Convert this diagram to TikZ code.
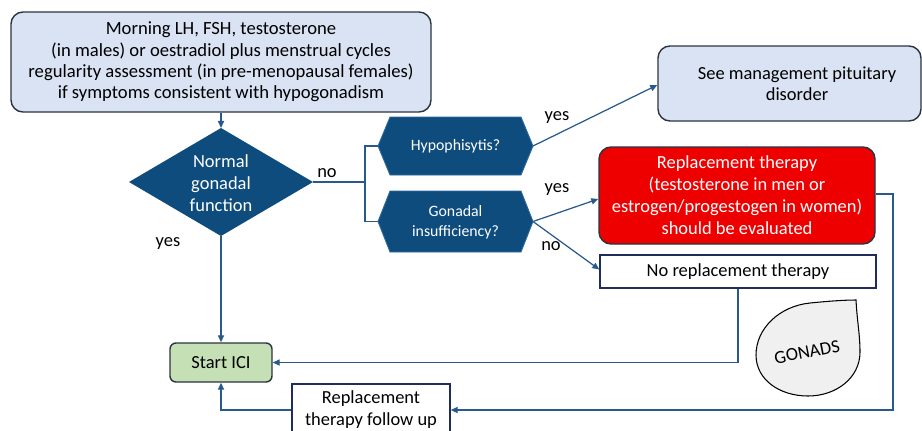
\documentclass[tikz,border=0pt]{standalone}
\usepackage{fontspec}
\setmainfont{Carlito}
\usetikzlibrary{arrows.meta,calc}
\newlength\px \setlength\px{0.02cm}
\definecolor{lblue}{HTML}{DAE3F3}
\definecolor{dkblue}{HTML}{0E4C7E}
\definecolor{hexedge}{HTML}{2E6A9E}
\definecolor{cline}{HTML}{275A8A}
\definecolor{bord}{HTML}{2B3440}
\definecolor{navy}{HTML}{202C5C}
\definecolor{redf}{HTML}{EE0000}
\definecolor{greenf}{HTML}{C5E0B4}
\definecolor{dropf}{HTML}{F0F0F0}
\begin{document}
\begin{tikzpicture}[x=0.02cm,y=-0.02cm,
  every node/.style={inner sep=0pt, align=center},
  rbox/.style={draw=bord, line width=0.8pt, rounded corners=12\px},
  sbox/.style={draw=navy, line width=0.8pt, fill=white},
  conn/.style={draw=cline, line width=0.7pt},
  arr/.style={conn, -{Triangle[length=4pt,width=3.5pt]}},
  lbl/.style={font=\fontsize{10.5}{12}\selectfont, text=black},
  txt/.style={font=\fontsize{10.5}{12.5}\selectfont},
  ]
\useasboundingbox (0,0) rectangle (922,430);

% top box
\node[rbox, fill=lblue, minimum width=420\px, minimum height=100\px,
      font=\fontsize{10.6}{12.1}\selectfont] (top) at (221,62)
  {Morning LH, FSH, testosterone\\(in males) or oestradiol plus menstrual cycles\\regularity assessment (in pre-menopausal females)\\if symptoms consistent with hypogonadism};

% diamond
\coordinate (diaL) at (129,182);
\coordinate (diaT) at (221,128);
\coordinate (diaR) at (313,182);
\coordinate (diaB) at (221,236);
\fill[dkblue] (diaL) -- (diaT) -- (diaR) -- (diaB) -- cycle;
\node[txt, text=white] (dia) at (221,183) {Normal\\gonadal\\function};

% hexagons
\coordinate (h1L) at (378,146);
\coordinate (h1R) at (533,146);
\filldraw[fill=dkblue, draw=hexedge, line width=0.5pt] (h1L) -- (390,117) -- (521,117) -- (h1R) -- (521,175) -- (390,175) -- cycle;
\node[font=\fontsize{9}{11.4}\selectfont, text=white] (h1) at (455.5,146) {Hypophisytis?};

\coordinate (h2L) at (378,221.5);
\coordinate (h2R) at (533,221.5);
\filldraw[fill=dkblue, draw=hexedge, line width=0.5pt] (h2L) -- (390,191) -- (521,191) -- (h2R) -- (521,252) -- (390,252) -- cycle;
\node[font=\fontsize{9}{11.4}\selectfont, text=white] (h2) at (455.5,222) {Gonadal\\insufficiency?};

% right boxes
\node[rbox, fill=lblue, minimum width=263\px, minimum height=75\px,
      font=\fontsize{10.5}{12}\selectfont] (see) at (789.5,83.5) {};
\node[font=\fontsize{10.5}{12}\selectfont] (seetxt) at (797,84) {See management pituitary\\disorder};

\node[rbox, fill=redf, text=white, minimum width=276\px, minimum height=97\px, txt] (red) at (737,195.5)
  {Replacement therapy\\(testosterone in men or\\estrogen/progestogen in women)\\should be evaluated};

\node[sbox, minimum width=276\px, minimum height=33\px, txt] (norep) at (738,271.5) {No replacement therapy};

% bottom boxes
\node[rbox, fill=greenf, rounded corners=6\px, minimum width=102\px, minimum height=39\px, txt] (start) at (221,362.5) {Start ICI};
\node[sbox, minimum width=158\px, minimum height=52\px, txt] (follow) at (371,410) {Replacement\\therapy follow up};

% teardrop
\filldraw[fill=dropf, draw=black, line width=0.6pt]
  (856,300) .. controls (857,320) and (860,335) .. (860,352)
  .. controls (860,378) and (836,396) .. (808,396)
  .. controls (780,396) and (756,380) .. (756,355)
  .. controls (756,328) and (780,306) .. (810,303)
  .. controls (830,301) and (845,300) .. (856,300) -- cycle;
\node[font=\fontsize{10.5}{12}\selectfont, rotate=11] (gon) at (807,352) {GONADS};

% connectors
\draw[arr] (top.south) -- (diaT);
\coordinate (jn) at (365,182);
\draw[conn] (diaR) -- (jn);
\draw[conn] (jn) |- (h1L);
\draw[conn] (jn) |- (h2L);
\draw[arr] (h1R) -- ([yshift=-1.5\px]see.west);
\draw[arr] (h2R) -- ([yshift=-3.5\px]red.west);
\draw[arr] (h2R) -- ([yshift=2\px]norep.west);
\draw[arr] (diaB) -- (start.north);
\draw[arr] (norep.south) |- (start.east);
\coordinate (rt) at (893,194);
\draw[arr] (red.east |- rt) -- (rt) |- (follow.east);
\draw[arr] (follow.west) -| (start.south);

% labels
\node[lbl] (no1) at (327,173) {no};
\node[lbl] (yes1) at (557,118) {yes};
\node[lbl] (yes2) at (557,190) {yes};
\node[lbl] (no2) at (551,246) {no};
\node[lbl] (yes3) at (168,244) {yes};
\end{tikzpicture}
\end{document}
